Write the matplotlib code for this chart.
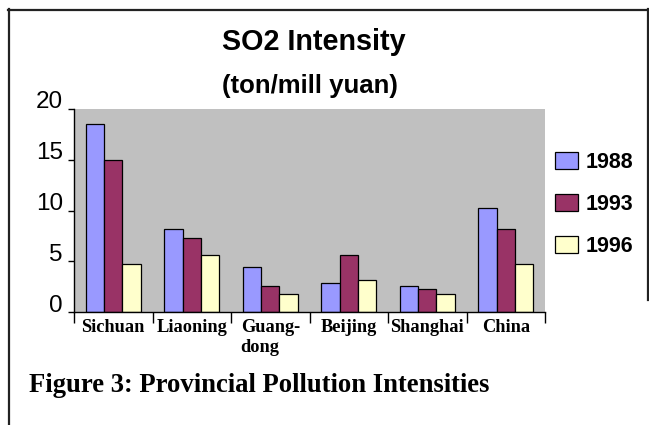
import numpy as np
import matplotlib.pyplot as plt
from matplotlib.lines import Line2D
from matplotlib.transforms import ScaledTranslation

# SO2 intensity by province (ton / million yuan)
regions = ["Sichuan", "Liaoning", "Guang-\ndong", "Beijing", "Shanghai", "China"]
years = ["1988", "1993", "1996"]
v1988 = [18.5, 8.2, 4.4, 2.9, 2.6, 10.2]
v1993 = [15.0, 7.3, 2.6, 5.6, 2.3, 8.2]
v1996 = [4.7, 5.6, 1.75, 3.2, 1.75, 4.7]
colors = ["#9999FF", "#993366", "#FFFFCC"]

W, H = 649, 425
fig = plt.figure(figsize=(W / 100, H / 100), dpi=100)
fig.patch.set_facecolor("white")

def px(x, y):
    # pixel position (from top-left) -> figure fraction
    return x / W, 1 - y / H

ax_l, ax_r, ax_t, ax_b = 74, 545, 109, 312
ax = fig.add_axes([ax_l / W, 1 - ax_b / H, (ax_r - ax_l) / W, (ax_b - ax_t) / H])
ax.set_facecolor("#C0C0C0")

x = np.arange(len(regions))
bw = 0.233
for i, (vals, yr) in enumerate(zip([v1988, v1993, v1996], years)):
    ax.bar(x + (i - 1) * bw, vals, width=bw, color=colors[i],
           edgecolor="black", linewidth=0.9, label=yr, zorder=2)

ax.set_xlim(-0.5, len(regions) - 0.5)
ax.set_ylim(0, 20)

for s in ["top", "right"]:
    ax.spines[s].set_visible(False)
for s in ["left", "bottom"]:
    ax.spines[s].set_linewidth(1.0)

# y axis
ax.set_yticks([0, 5, 10, 15, 20])
ax.tick_params(axis="y", direction="out", length=4.5, width=1.0, pad=3.5,
               labelsize=17.5)
for lab in ax.get_yticklabels():
    lab.set_fontfamily("Liberation Sans")
    lab.set_transform(lab.get_transform() + ScaledTranslation(0, 9 / 100, fig.dpi_scale_trans))

# x axis: category separators as minor ticks, labels at centres
ax.set_xticks(x)
ax.set_xticklabels(regions, fontfamily="Liberation Serif", fontweight="bold",
                   fontsize=13.2, linespacing=1.25)
for lab in ax.get_xticklabels():
    lab.set_multialignment("left")
ax.set_xticks(np.arange(len(regions) + 1) - 0.5, minor=True)
ax.tick_params(axis="x", which="major", length=0, pad=5)
ax.tick_params(axis="x", which="minor", direction="out", length=8, width=1.0)

# legend
leg = ax.legend(loc="upper left", bbox_to_anchor=px(555, 152), bbox_transform=fig.transFigure,
                frameon=False, borderpad=0, borderaxespad=0,
                handlelength=1.05, handleheight=0.8, handletextpad=0.35,
                labelspacing=0.98,
                prop={"family": "Liberation Sans", "weight": "bold", "size": 15.5})

# titles
fig.text(*px(314, 50), "SO2 Intensity", ha="center", va="baseline",
         fontfamily="Liberation Sans", fontweight="bold", fontsize=20.7)
fig.text(*px(310, 93), "(ton/mill yuan)", ha="center", va="baseline",
         fontfamily="Liberation Sans", fontweight="bold", fontsize=18.5)
fig.text(*px(29, 391.5), "Figure 3: Provincial Pollution Intensities", ha="left",
         va="baseline", fontfamily="Liberation Serif", fontweight="bold", fontsize=19.2)

# page frame
fig.add_artist(Line2D([8 / W, 1], [1 - 9.5 / H] * 2, transform=fig.transFigure,
                      color="#222222", linewidth=1.6))
fig.add_artist(Line2D([8.5 / W] * 2, [0, 1 - 9 / H], transform=fig.transFigure,
                      color="#222222", linewidth=1.6))
fig.add_artist(Line2D([647.5 / W] * 2, [1 - 300 / H, 1 - 9 / H], transform=fig.transFigure,
                      color="#222222", linewidth=1.6))

fig.savefig("out.png", dpi=100)
